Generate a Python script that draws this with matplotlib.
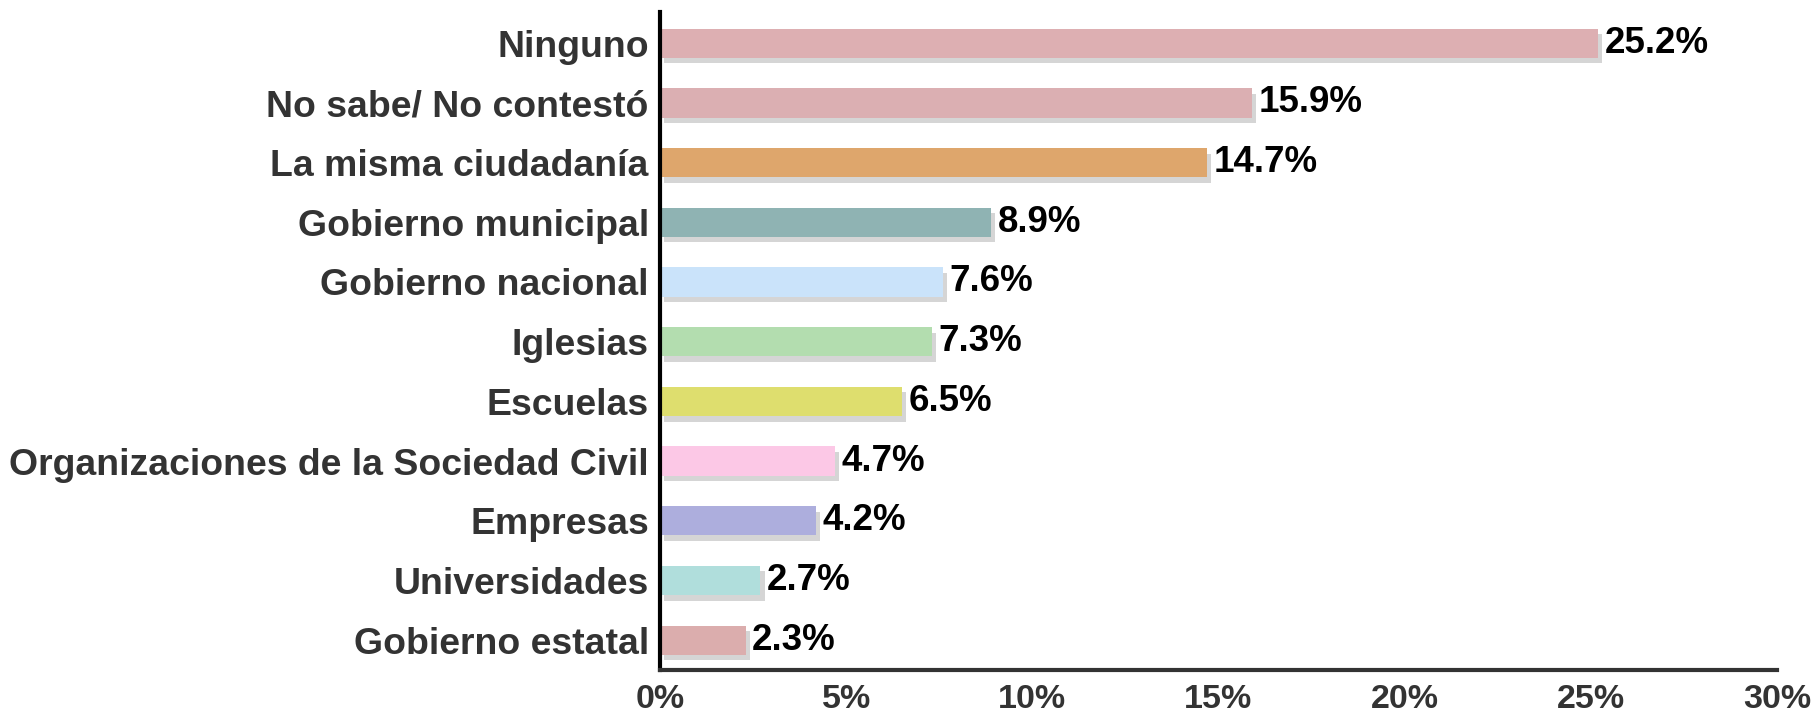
import matplotlib
matplotlib.use("Agg")
import matplotlib.pyplot as plt
import matplotlib.patheffects as pe

categories = ["Ninguno", "No sabe/ No contestó", "La misma ciudadanía",
              "Gobierno municipal", "Gobierno nacional", "Iglesias", "Escuelas",
              "Organizaciones de la Sociedad Civil", "Empresas", "Universidades",
              "Gobierno estatal"]
values = [25.2, 15.9, 14.7, 8.9, 7.6, 7.3, 6.5, 4.7, 4.2, 2.7, 2.3]
colors = ["#DDAFB2", "#DBAFB2", "#DEA66C", "#8FB3B3", "#CAE3FA", "#B3DDAF",
          "#DEDE6E", "#FCC8E6", "#ADAEDD", "#B0DEDC", "#DBADAD"]
xticks = [0, 5, 10, 15, 20, 25, 30]

plt.rcParams['font.family'] = ['Liberation Sans', 'DejaVu Sans']

fig = plt.figure(figsize=(18.15, 7.14), dpi=100)
ax = fig.add_axes([0.3636, 0.0616, 0.979 - 0.3636, 0.983 - 0.0616])

y = list(range(len(categories)))
bars = ax.barh(y, values, height=0.49, color=colors, zorder=2)
for b in bars:
    b.set_path_effects([pe.SimplePatchShadow(offset=(3, -4), shadow_rgbFace="#777777", alpha=0.3),
                        pe.Normal()])

# value labels just past the bar ends
for yi, v in zip(y, values):
    ax.text(v + 0.17, yi, f"{v}%", va="center", ha="left", fontsize=26.5,
            fontweight="bold", color="black")

ax.set_ylim(10.5, -0.52)
ax.set_xlim(0, 30)
ax.set_yticks(y)
ax.set_yticklabels(categories, fontsize=26.9, fontweight="bold", color="#333333")
ax.set_xticks(xticks)
ax.set_xticklabels([f"{t}%" for t in xticks], fontsize=24.5, fontweight="bold", color="#333333")
ax.tick_params(axis="y", length=0, pad=8)
ax.tick_params(axis="x", length=0, pad=10)

for s in ["top", "right"]:
    ax.spines[s].set_visible(False)
ax.spines["left"].set_linewidth(3)
ax.spines["left"].set_color("black")
ax.spines["bottom"].set_linewidth(3)
ax.spines["bottom"].set_color("#333333")

fig.savefig("out.png", dpi=100)
